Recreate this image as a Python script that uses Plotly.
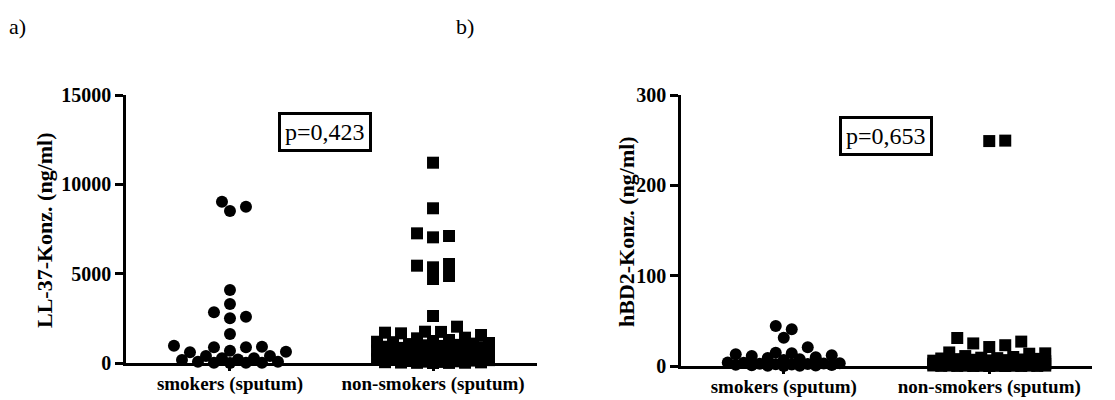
import math
import numpy as np
import plotly.graph_objects as go

# ---------------- data ----------------
categories = ["smokers (sputum)", "non-smokers (sputum)"]

smokers_LL37 = [9030, 8750, 8507, 4086, 3302, 2836, 2592, 2500, 1623, 970, 913, 880, 880,
                690, 630, 600, 390, 390, 260, 260, 200, 170, 70, 70, 20, 20, 20, 0]
nonsmokers_LL37 = [11211, 8659, 7257, 7108, 7033, 5541, 5447, 5356, 4869, 4701, 2630, 2033,
                   1752, 1740, 1697, 1660, 1567, 1417, 1380, 1287,
                   1230, 1190, 1165, 1120, 1085, 1060, 1015, 990, 955, 910, 890, 845, 810,
                   775, 760, 715, 690, 645, 610, 590, 545, 520, 480, 455, 420, 385, 360,
                   330, 295, 270, 240, 215, 180, 160, 135, 110, 95, 75, 60, 45, 35, 25,
                   15, 10, 5, 0]

smokers_hBD2 = [44.3, 40.6, 31.3, 20.7, 14.8, 14.0, 13.0, 11.8, 11.0, 9.6, 8.8, 7.4, 6.6,
                4.0, 3.6, 3.1, 2.8, 2.5, 2.2, 1.9, 1.6, 1.3, 1.0, 0.8, 0.6, 0.4, 0.2, 0.0]
nonsmokers_hBD2 = [249.5, 249.0, 31.0, 27.0, 25.0, 23.0, 21.0, 15.0, 14.0, 13.6, 11.0, 10.0,
                   9.2, 8.7, 8.3, 7.9, 7.6, 7.2, 6.9, 6.5, 6.2, 5.9, 5.6, 5.3, 5.0, 4.8,
                   4.5, 4.3, 4.0, 3.8, 3.6, 3.4, 3.2, 3.0, 2.8, 2.6, 2.5, 2.3, 2.1, 2.0,
                   1.8, 1.7, 1.5, 1.4, 1.3, 1.2, 1.1, 1.0, 0.9, 0.8, 0.7, 0.6, 0.5, 0.45,
                   0.4, 0.35, 0.3, 0.25, 0.2, 0.15, 0.1, 0.08, 0.05, 0.03, 0.01, 0.0]

yticks_a = [0, 5000, 10000, 15000]
yticks_b = [0, 100, 200, 300]
p_text_a = "p=0,423"
p_text_b = "p=0,653"
ytitle_a = "LL-37-Konz. (ng/ml)"
ytitle_b = "hBD2-Konz. (ng/ml)"

# ---------------- layout geometry ----------------
OFF = 8                      # page body margin
W, H = 1115 - OFF, 400 - OFF
FONT = "Liberation Serif"

def px(x):
    return (x - OFF) / W

def py(y):
    return 1 - (y - OFF) / H

# panel a
xa_dom = [px(126), px(537)]
ya_dom = [py(363), py(95)]
xa_rng = [0.488, 2.512]
ya_rng = [0, 15000]
# panel b
xb_dom = [px(681), px(1092)]
yb_dom = [py(366), py(95)]
xb_rng = [0.5, 2.5]
yb_rng = [0, 300]


def swarm(values, ppu_y, step=8.0, dmin=11.0, kmax=7):
    """Simple beeswarm layout, returns horizontal pixel offsets."""
    vals = np.asarray(values, dtype=float)
    order = np.argsort(vals, kind="stable")
    cands = [0] + [s * k for k in range(1, kmax + 1) for s in (1, -1)]
    placed = []
    xs = np.zeros(len(vals))
    for i in order:
        y = vals[i] * ppu_y
        best, bestd = 0, -1.0
        for c in cands:
            x = c * step
            d = min((math.hypot(x - a, y - b) for a, b in placed), default=1e9)
            if d >= dmin:
                best = x
                break
            if d > bestd:
                bestd, best = d, x
        xs[i] = best
        placed.append((best, y))
    return xs


fig = go.Figure()

panels = [
    ("x", "y", [smokers_LL37, nonsmokers_LL37], xa_dom, xa_rng, ya_dom, ya_rng),
    ("x2", "y2", [smokers_hBD2, nonsmokers_hBD2], xb_dom, xb_rng, yb_dom, yb_rng),
]
symbols = ["circle", "square"]
for xr, yr, groups, xdom, xrng, ydom, yrng in panels:
    ppx = (xdom[1] - xdom[0]) * W / (xrng[1] - xrng[0])
    ppy = (ydom[1] - ydom[0]) * H / (yrng[1] - yrng[0])
    for gi, vals in enumerate(groups):
        offs = swarm(vals, ppy)
        xs = (gi + 1) + offs / ppx
        fig.add_trace(go.Scatter(
            x=xs, y=vals, mode="markers", xaxis=xr, yaxis=yr,
            marker=dict(symbol=symbols[gi], size=12, color="black",
                        line=dict(width=0)),
            cliponaxis=False, showlegend=False, hoverinfo="y"))

tickfont = dict(family=FONT, size=20, color="black", weight="bold")
axis_common = dict(showgrid=False, zeroline=False, showline=True, linecolor="black",
                   linewidth=2.5, ticks="outside", tickcolor="black", tickwidth=2.5,
                   tickfont=tickfont, fixedrange=True, automargin=False)
xfont = dict(family=FONT, size=19, color="black", weight="bold")

fig.update_layout(
    template="none",
    width=W, height=H, margin=dict(l=0, r=0, t=0, b=0, autoexpand=False),
    paper_bgcolor="white", plot_bgcolor="white",
    xaxis=dict(domain=xa_dom, range=xa_rng, anchor="y", tickvals=[1, 2],
               ticktext=categories, ticklen=5, **axis_common),
    yaxis=dict(domain=ya_dom, range=ya_rng, anchor="x", tickvals=yticks_a,
               ticktext=[str(v) for v in yticks_a], ticklen=8, **axis_common),
    xaxis2=dict(domain=xb_dom, range=xb_rng, anchor="y2", tickvals=[1, 2],
                ticktext=categories, ticklen=5, **axis_common),
    yaxis2=dict(domain=yb_dom, range=yb_rng, anchor="x2", tickvals=yticks_b,
                ticktext=[str(v) for v in yticks_b], ticklen=8, **axis_common),
)
fig.update_xaxes(ticklabelstandoff=-4, tickfont=xfont)

def note(text, x, y, **kw):
    d = dict(text=text, x=px(x), y=py(y), xref="paper", yref="paper",
             xanchor="center", yanchor="middle", showarrow=False)
    d.update(kw)
    return d

ann = [
    note("a)", 17, 27, font=dict(family=FONT, size=22, color="black")),
    note("b)", 465, 27, font=dict(family=FONT, size=22, color="black")),
    note(ytitle_a, 44, 230, textangle=-90,
         font=dict(family=FONT, size=22, color="black", weight="bold")),
    note(ytitle_b, 626, 232, textangle=-90,
         font=dict(family=FONT, size=22, color="black", weight="bold")),
    note(p_text_a, 325, 132.5, bordercolor="black", borderwidth=3, borderpad=4,
         bgcolor="white", font=dict(family=FONT, size=24, color="black")),
    note(p_text_b, 886, 135.5, bordercolor="black", borderwidth=3, borderpad=4,
         bgcolor="white", font=dict(family=FONT, size=24, color="black")),
]
fig.update_layout(annotations=ann)

fig.write_html("out.html")
